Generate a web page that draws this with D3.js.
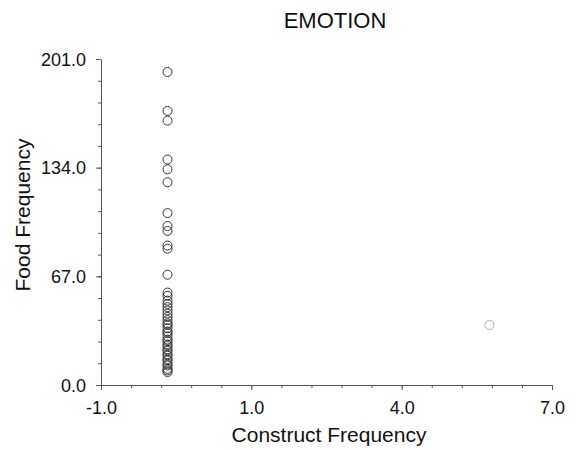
<!DOCTYPE html>
<html>
<head>
<meta charset="utf-8">
<script src="https://cdn.jsdelivr.net/npm/d3@7"></script>
<style>
  html, body { margin: 0; padding: 0; background: #fff; }
  svg { display: block; font-family: "Liberation Sans", Arial, sans-serif; }
</style>
</head>
<body>
<svg id="chart" width="576" height="451"></svg>
<script>
// Chart text
const chartTitle = "EMOTION";
const xTitle = "Construct Frequency";
const yTitle = "Food Frequency";

// Axis ranges and tick labels
const xDomain = [-1, 7];
const yDomain = [0, 201];
const xTickLabels = ["-1.0", "1.0", "4.0", "7.0"];
const yTickValues = [0, 67, 134, 201];
const yTickLabels = ["0.0", "67.0", "134.0", "201.0"];

// Observations: construct frequency vs food frequency
const xValues = [
  0.18, 0.18, 0.18, 0.18, 0.18, 0.18, 0.18, 0.18, 0.18, 0.18, 0.18, 0.18,
  0.18, 0.18, 0.18, 0.18, 0.18, 0.18, 0.18, 0.18, 0.18, 0.18, 0.18, 0.18,
  0.18, 0.18, 0.18, 0.18, 0.18, 0.18, 0.18, 0.18, 0.18, 0.18, 0.18, 0.18,
  0.18, 0.18, 0.18, 0.18, 0.18, 0.18,
  5.89
];
const yValues = [
  193, 169, 163, 139, 133, 125, 106, 98, 95, 86, 84, 68,
  57, 55, 52, 50, 48, 46, 44, 42, 40, 38, 37, 35,
  33, 32, 30, 28, 27, 25, 24, 22, 21, 19, 18, 16,
  15, 13, 12, 10, 9, 8,
  37
];

const svg = d3.select("#chart");

const x = d3.scaleLinear().domain(xDomain).range([101, 552]);
const y = d3.scaleLinear().domain(yDomain).range([385, 59]);

// Major x ticks split the range into three equal parts, five minor steps each
const xMajor = d3.range(xTickLabels.length).map(i => xDomain[0] + i * (xDomain[1] - xDomain[0]) / (xTickLabels.length - 1));
const xMinorStep = (xMajor[1] - xMajor[0]) / 5;
const xMinor = d3.range(0, 16).map(i => xDomain[0] + i * xMinorStep);
const yMinorStep = (yTickValues[1] - yTickValues[0]) / 5;
const yMinor = d3.range(0, 16).map(i => yDomain[0] + i * yMinorStep);

const axisColor = "#555";

// Minor ticks
svg.append("g")
  .attr("transform", `translate(0,${y(0)})`)
  .call(d3.axisBottom(x).tickValues(xMinor).tickSize(3).tickFormat(""))
  .call(g => g.select(".domain").remove())
  .call(g => g.selectAll("line").attr("stroke", axisColor));
svg.append("g")
  .attr("transform", `translate(${x(xDomain[0])},0)`)
  .call(d3.axisLeft(y).tickValues(yMinor).tickSize(3).tickFormat(""))
  .call(g => g.select(".domain").remove())
  .call(g => g.selectAll("line").attr("stroke", axisColor));

// Major x axis
svg.append("g")
  .attr("transform", `translate(0,${y(0)})`)
  .call(d3.axisBottom(x).tickValues(xMajor).tickSize(5).tickSizeOuter(0)
    .tickFormat((d, i) => xTickLabels[i]))
  .call(g => g.select(".domain").attr("stroke", axisColor))
  .call(g => g.selectAll("line").attr("stroke", axisColor))
  .call(g => g.selectAll("text")
    .attr("fill", "#111")
    .attr("font-size", 18)
    .attr("font-family", "Liberation Sans, Arial, sans-serif")
    .attr("dy", null)
    .attr("y", 29));

// Major y axis
svg.append("g")
  .attr("transform", `translate(${x(xDomain[0])},0)`)
  .call(d3.axisLeft(y).tickValues(yTickValues).tickSize(5).tickSizeOuter(0)
    .tickFormat((d, i) => yTickLabels[i]))
  .call(g => g.select(".domain").attr("stroke", axisColor))
  .call(g => g.selectAll("line").attr("stroke", axisColor))
  .call(g => g.selectAll("text")
    .attr("fill", "#111")
    .attr("font-size", 18)
    .attr("font-family", "Liberation Sans, Arial, sans-serif")
    .attr("x", -15)
    .attr("dy", "0.35em"));

// Points
svg.append("g")
  .selectAll("circle")
  .data(yValues.map((v, i) => ({ x: xValues[i], y: v })))
  .join("circle")
  .attr("cx", d => x(d.x))
  .attr("cy", d => y(d.y))
  .attr("r", 4.5)
  .attr("fill", "none")
  .attr("stroke", d => d.x > 3 ? "#aaa" : "#333")
  .attr("stroke-width", 1);

// Titles
svg.append("text")
  .attr("x", 335).attr("y", 28)
  .attr("text-anchor", "middle")
  .attr("font-size", 22)
  .attr("fill", "#111")
  .text(chartTitle);

svg.append("text")
  .attr("x", 329).attr("y", 442)
  .attr("text-anchor", "middle")
  .attr("font-size", 21)
  .attr("fill", "#111")
  .text(xTitle);

svg.append("text")
  .attr("transform", "translate(30,215) rotate(-90)")
  .attr("text-anchor", "middle")
  .attr("font-size", 21)
  .attr("fill", "#111")
  .text(yTitle);
</script>
</body>
</html>
